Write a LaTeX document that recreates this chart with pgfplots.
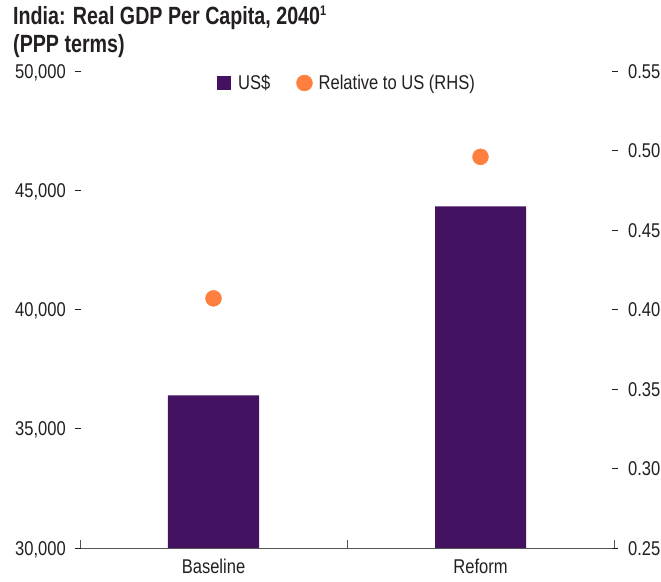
\documentclass[border=0pt]{standalone}
\usepackage{fontspec}
\setmainfont{Liberation Sans}[FakeStretch=0.83]
\newfontfamily\titlefont{Liberation Sans}[FakeStretch=0.79]
\usepackage{pgfplots}
\pgfplotsset{compat=1.18}
\definecolor{barpurple}{HTML}{431261}
\definecolor{dotorange}{HTML}{FF7F3F}
\definecolor{axgray}{HTML}{555555}
\definecolor{txtgray}{HTML}{231F20}
\begin{document}
\begin{tikzpicture}
\useasboundingbox (-80bp,-34bp) rectangle (581bp,548bp);
\begin{axis}[
  scale only axis, width=534bp, height=477bp,
  xmin=-0.5, xmax=1.5, ymin=30000, ymax=50000,
  axis x line*=bottom, axis y line*=left,
  x axis line style={axgray, line width=0.8bp, -},
  y axis line style={draw=none},
  xtick={0,1}, xticklabels={Baseline, Reform},
  major x tick style={draw=none},
  minor xtick={-0.5,0.5,1.5},
  minor x tick style={axgray, line width=0.8bp},
  minor tick length=8bp, tick align=inside,
  xticklabel style={inner sep=0pt, yshift=-11bp, text=txtgray},
  ytick={30000,35000,40000,45000,50000},
  major y tick style={draw=none},
  yticklabel={\pgfmathprintnumber[1000 sep={,},assume math mode=true]{\tick}\hspace{9bp}\rule[6.5bp]{6bp}{1.1bp}},
  yticklabel style={anchor=base east, inner sep=0pt, yshift=-7.2bp, xshift=1bp, text=txtgray},
  scaled y ticks=false,
  font=\fontsize{20}{24}\selectfont,
  legend style={draw=none, fill=none, legend columns=2, at={(0.5,1)}, anchor=center, yshift=-12bp,
    font=\fontsize{20}{24}\selectfont, text=txtgray,
    /tikz/every even column/.append style={column sep=24bp}},
]
\addplot[ybar, bar width=91bp, fill=barpurple, draw=none,
  legend image code/.code={\fill[barpurple] (0bp,-7bp) rectangle (14bp,7bp);}]
  coordinates {(0,36400) (1,44320)};
\addlegendentry{\hspace{5bp}US\$}
\addlegendimage{legend image code/.code={\fill[dotorange] (8bp,0bp) circle (8bp);}}
\addlegendentry{\hspace{4bp}Relative to US (RHS)}
\end{axis}
\begin{axis}[
  scale only axis, width=534bp, height=477bp,
  xmin=-0.5, xmax=1.5, ymin=0.25, ymax=0.55,
  axis x line=none, axis y line*=right,
  y axis line style={draw=none},
  ytick={0.25,0.3,0.35,0.4,0.45,0.5,0.55},
  major y tick style={draw=none},
  yticklabel={\rule[6.5bp]{6bp}{1.1bp}\hspace{10bp}\pgfmathprintnumber[fixed,fixed zerofill,precision=2,assume math mode=true]{\tick}},
  yticklabel style={anchor=base west, inner sep=0pt, yshift=-7.2bp, xshift=-2bp, text=txtgray},
  font=\fontsize{20}{24}\selectfont,
  clip=false,
]
\addplot[only marks, mark=*, mark size=8bp, dotorange, mark options={draw=none, fill=dotorange}]
  coordinates {(0,0.407) (1,0.496)};
\end{axis}
\node[anchor=north west, align=left, inner sep=0pt, text=txtgray,
  font=\titlefont\bfseries\fontsize{25}{28}\selectfont] at (-67bp,542bp)
  {India: Real GDP Per Capita, 2040\textsuperscript{\fontsize{14}{14}\selectfont 1}\\(PPP terms)};
\end{tikzpicture}
\end{document}
